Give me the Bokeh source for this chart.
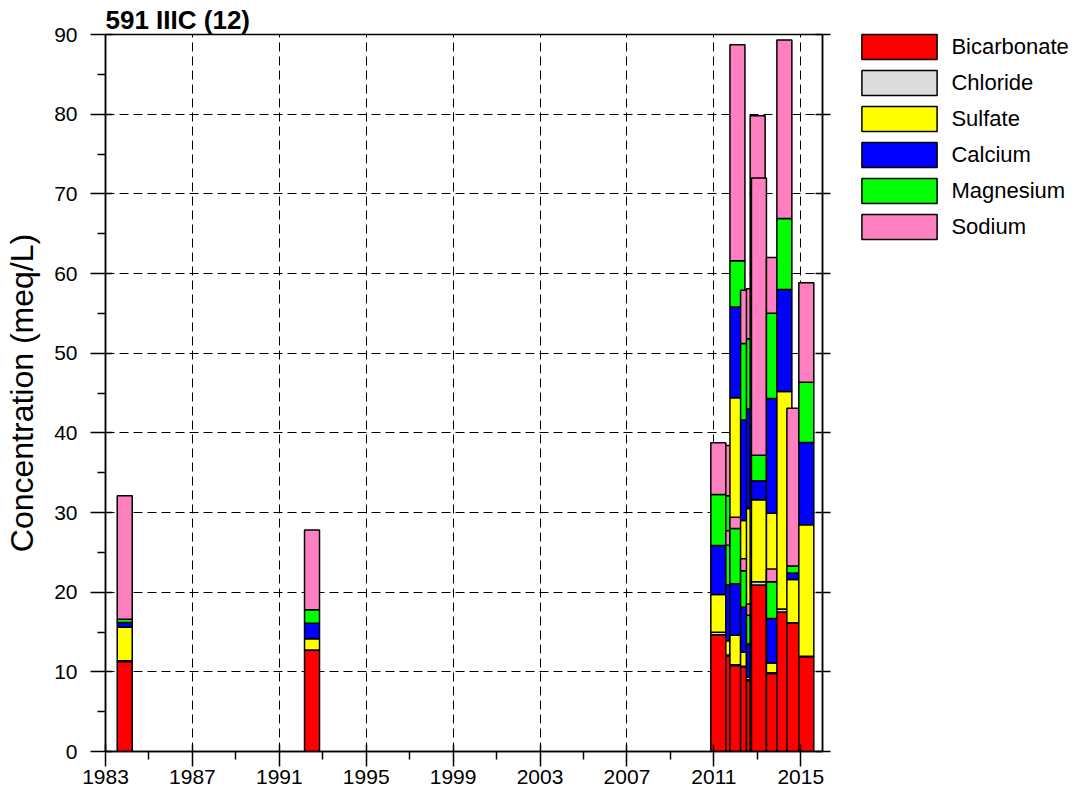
from bokeh.plotting import figure
from bokeh.models import (ColumnDataSource, FixedTicker, Legend, LegendItem,
                          LinearAxis, Range1d)
from bokeh.embed import file_html
from bokeh.resources import INLINE

# ---------------- data ----------------
series = ["Bicarbonate", "Chloride", "Sulfate", "Calcium", "Magnesium", "Sodium"]
colors = ["#FF0000", "#DCDCDC", "#FFFF00", "#0000FF", "#00FF00", "#FF80C0"]

# sample dates (left edge of each bar, decimal years), in drawing order
dates = [1983.54, 1992.16, 2010.86, 2011.55, 2011.55, 2011.74, 2011.74,
         2012.23, 2012.23, 2012.50, 2012.50, 2012.67, 2012.73,
         2013.42, 2013.42, 2013.90, 2014.36, 2014.91]

bicarbonate = [11.3, 12.7, 14.65, 12.0, 12.0, 10.5, 10.8, 9.5, 10.6, 9.0, 8.9,
               20.9, 20.9, 9.5, 9.8, 17.5, 16.1, 11.9]
chloride    = [0.1, 0.05, 0.33, 0.2, 0.1, 0.3, 0.1, 0.2, 0.1, 0.2, 0.1,
               0.4, 0.4, 0.2, 0.1, 0.4, 0.05, 0.05]
sulfate     = [4.2, 1.4, 4.74, 3.8, 1.8, 33.6, 3.7, 19.3, 1.8, 21.3, 0.33,
               10.3, 10.3, 20.2, 1.2, 27.3, 5.45, 16.5]
calcium     = [0.6, 1.95, 6.15, 6.0, 7.0, 11.4, 6.46, 12.6, 5.6, 12.5, 4.17,
               2.4, 2.4, 14.4, 5.6, 12.8, 0.8, 10.35]
magnesium   = [0.4, 1.7, 6.4, 10.1, 5.0, 5.8, 6.94, 9.6, 4.6, 8.8, 3.6,
               3.2, 3.2, 10.7, 4.6, 8.9, 0.9, 7.55]
sodium      = [15.5, 10.0, 6.5, 6.3, 1.8, 27.1, 1.4, 6.7, 1.5, 6.3, 1.4,
               42.6, 34.8, 7.0, 1.6, 22.4, 19.8, 12.5]

x_major = [1983, 1987, 1991, 1995, 1999, 2003, 2007, 2011, 2015]
x_minor = [1985, 1989, 1993, 1997, 2001, 2005, 2009, 2013]
y_major = [0, 10, 20, 30, 40, 50, 60, 70, 80, 90]
y_minor = [5, 15, 25, 35, 45, 55, 65, 75, 85]

# ---------------- figure ----------------
BAR_W = 0.69
FONT = "Liberation Sans"

p = figure(frame_width=717, frame_height=717,
           min_border_left=105, min_border_top=34, min_border_bottom=44,
           min_border_right=250,
           x_range=Range1d(1983, 2016), y_range=Range1d(0, 90),
           output_backend="svg", toolbar_location=None,
           background_fill_color="white", border_fill_color="white")
p.outline_line_color = "black"
p.outline_line_width = 1.5

p.title.text = "591 IIIC (12)"
p.title.align = "left"
p.title.text_font = FONT
p.title.text_font_size = "26px"
p.title.text_font_style = "bold"
p.title.text_color = "black"
p.title.standoff = 0
p.title.offset = 0

renderers = []
for i, d in enumerate(dates):
    vals = [bicarbonate[i], chloride[i], sulfate[i], calcium[i], magnesium[i], sodium[i]]
    bottoms, tops = [], []
    acc = 0.0
    for v in vals:
        bottoms.append(acc)
        acc += v
        tops.append(acc)
    src = ColumnDataSource(dict(left=[d] * 6, right=[d + BAR_W] * 6,
                                bottom=bottoms, top=tops, color=colors))
    r = p.quad(left="left", right="right", bottom="bottom", top="top",
               fill_color="color", line_color="black", line_width=1.5, source=src)
    renderers.append(r)

# axes
p.xaxis.ticker = FixedTicker(ticks=x_major, minor_ticks=x_minor)
p.yaxis.ticker = FixedTicker(ticks=y_major, minor_ticks=y_minor)
for ax in (p.xaxis[0], p.yaxis[0]):
    ax.axis_line_width = 1.5
    ax.major_tick_line_width = 1.5
    ax.minor_tick_line_width = 1.5
    ax.major_tick_out = 15
    ax.major_tick_in = 7
    ax.minor_tick_out = 8
    ax.minor_tick_in = 0
    ax.major_label_text_font = FONT
    ax.major_label_text_font_size = "21px"
    ax.major_label_text_color = "black"
    ax.axis_line_color = "black"
    ax.major_tick_line_color = "black"
    ax.minor_tick_line_color = "black"
p.xaxis.major_label_standoff = 3
p.yaxis.major_label_standoff = 13
p.yaxis.axis_label = "Concentration (meq/L)"
p.yaxis.axis_label_text_font = FONT
p.yaxis.axis_label_text_font_size = "32px"
p.yaxis.axis_label_text_font_style = "normal"
p.yaxis.axis_label_text_color = "black"
p.yaxis.axis_label_standoff = 11

ry = LinearAxis(ticker=FixedTicker(ticks=y_major, minor_ticks=y_minor),
                major_label_overrides={v: "" for v in y_major},
                major_label_standoff=5,
                axis_line_width=1.5,
                major_tick_out=8, major_tick_in=7, minor_tick_out=0, minor_tick_in=0,
                major_tick_line_width=1.5)
p.add_layout(ry, "right")

p.grid.grid_line_color = "black"
p.grid.grid_line_dash = "9 5"
p.grid.grid_line_width = 1
p.xgrid.ticker = FixedTicker(ticks=x_major)
p.ygrid.ticker = FixedTicker(ticks=y_major)

# legend
items = [LegendItem(label=s, renderers=[renderers[0]], index=k) for k, s in enumerate(series)]
leg = Legend(items=items, location=(-180.4, 509), glyph_width=94, glyph_height=31,
             spacing=5, padding=0, margin=0, label_standoff=5,
             label_text_font=FONT, label_text_font_size="22px",
             label_text_color="black",
             border_line_alpha=0, background_fill_alpha=0)
p.add_layout(leg, "right")

open("out.html", "w").write(file_html(p, INLINE))
